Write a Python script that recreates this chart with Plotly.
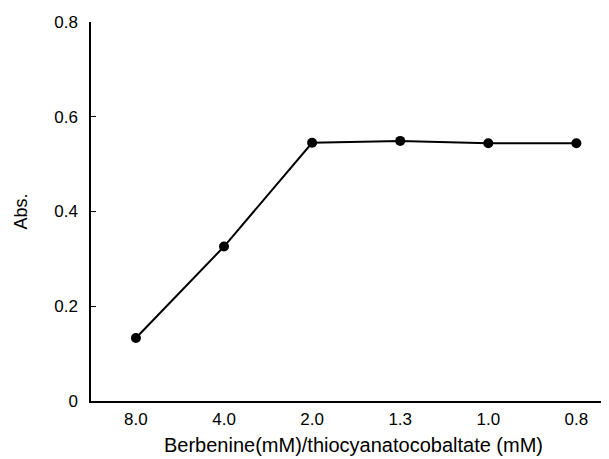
import plotly.graph_objects as go

categories = ["8.0", "4.0", "2.0", "1.3", "1.0", "0.8"]
absorbance = [0.133, 0.326, 0.545, 0.549, 0.544, 0.544]
y_tickvals = [0, 0.2, 0.4, 0.6, 0.8]
y_ticktext = ["0", "0.2", "0.4", "0.6", "0.8"]

fig = go.Figure()
fig.add_trace(go.Scatter(
    x=list(range(len(categories))), y=absorbance,
    mode="lines+markers",
    line=dict(color="black", width=2),
    marker=dict(color="black", size=10),
    showlegend=False,
))

font = dict(family="Liberation Sans, Arial, sans-serif", size=17, color="black")

fig.update_layout(
    width=609, height=459,
    margin=dict(l=83, r=1, t=14, b=66),
    paper_bgcolor="white", plot_bgcolor="white",
    font=font,
    xaxis=dict(
        range=[-0.51, 5.45],
        tickmode="array",
        tickvals=list(range(len(categories))),
        ticktext=categories,
        showgrid=False, zeroline=False,
        showline=True, linecolor="black", linewidth=1.5,
        ticks="", ticklabelstandoff=2,
        title=dict(text="Berbenine(mM)/thiocyanatocobaltate (mM)",
                   font=dict(size=20), standoff=10),
    ),
    yaxis=dict(
        range=[0, 0.8],
        tickmode="array",
        tickvals=y_tickvals,
        ticktext=y_ticktext,
        showgrid=False, zeroline=False,
        showline=True, linecolor="black", linewidth=1.5,
        ticks="inside", ticklen=5, tickcolor="black",
        ticklabelstandoff=8,
        title=dict(text="Abs.", font=dict(size=18), standoff=22),
    ),
)

fig.write_html("out.html")
